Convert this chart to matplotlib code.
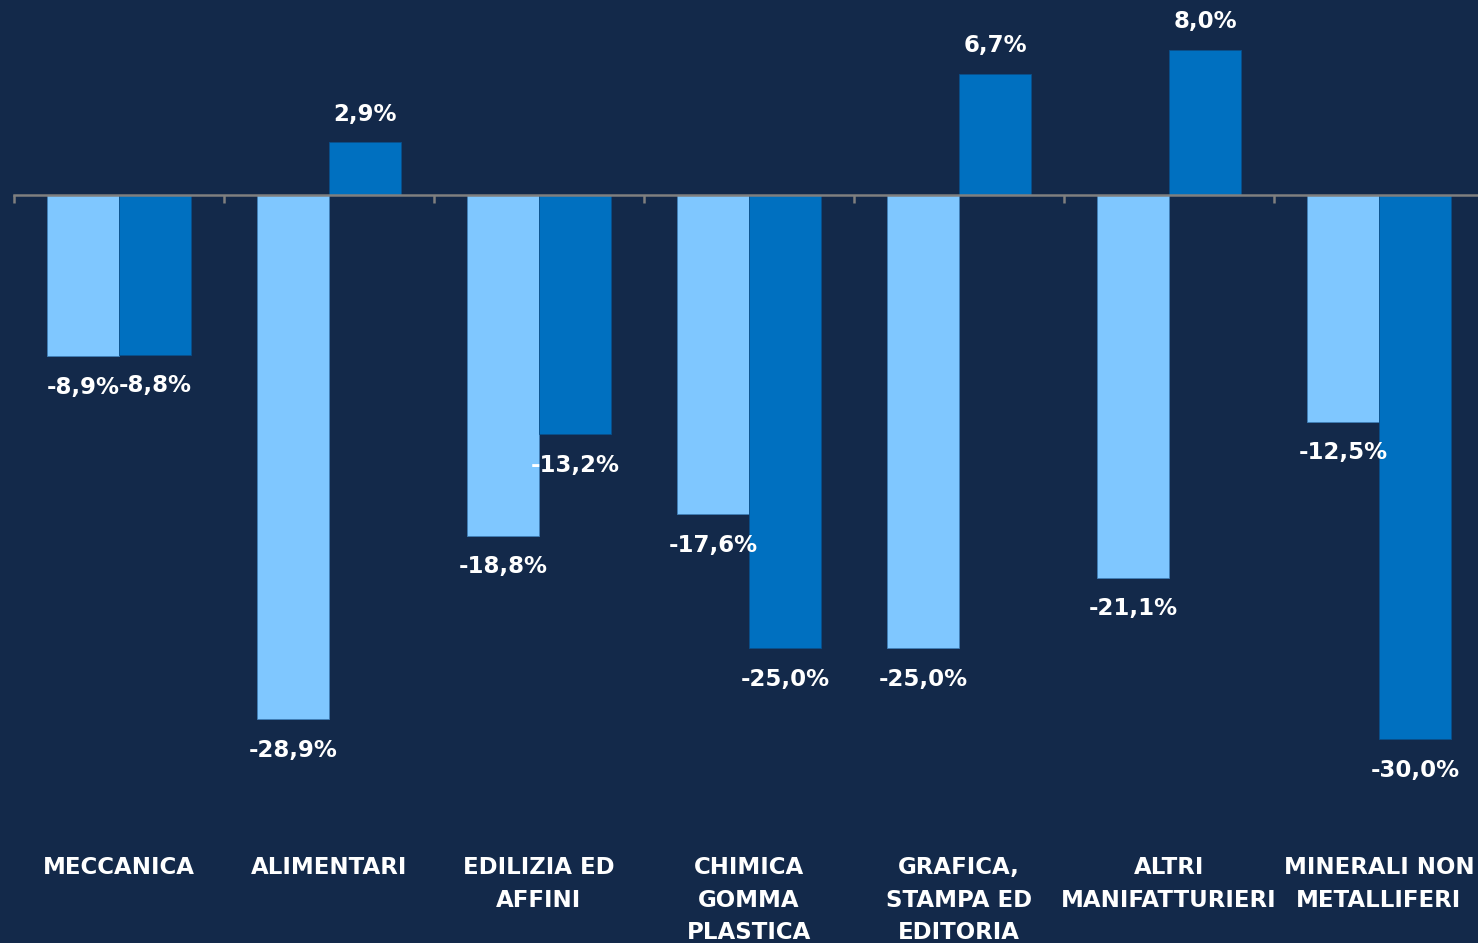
import matplotlib
matplotlib.use("Agg")
import matplotlib.pyplot as plt
import matplotlib.transforms as mtransforms

categories = ["MECCANICA", "ALIMENTARI", "EDILIZIA ED\nAFFINI", "CHIMICA\nGOMMA\nPLASTICA",
              "GRAFICA,\nSTAMPA ED\nEDITORIA", "ALTRI\nMANIFATTURIERI", "MINERALI NON\nMETALLIFERI"]
series_light = [-8.9, -28.9, -18.8, -17.6, -25.0, -21.1, -12.5]
series_dark = [-8.8, 2.9, -13.2, -25.0, 6.7, 8.0, -30.0]

BG = "#13294A"
C_LIGHT = "#7FC7FF"
C_DARK = "#0070C0"
GRAY = "#7F7F7F"

W, H = 1478, 943
fig = plt.figure(figsize=(W / 100, H / 100), dpi=100, facecolor=BG)
ax = fig.add_axes([14 / W, 0, 1470 / W, 1])
ax.set_facecolor(BG)

x = list(range(len(categories)))
bw = 0.343
xl = [i - bw / 2 for i in x]
xd = [i + bw / 2 for i in x]
ax.bar(xl, series_light, width=bw, color=C_LIGHT, edgecolor="#3F7FB8", linewidth=0.6, zorder=1)
ax.bar(xd, series_dark, width=bw, color=C_DARK, edgecolor="#0A4F8A", linewidth=0.6, zorder=1)

ax.set_xlim(-0.5, len(categories) - 0.5)
ax.set_ylim(-41.25, 10.754)

for s in ["top", "left", "right"]:
    ax.spines[s].set_visible(False)
ax.spines["bottom"].set_position(("data", 0))
ax.spines["bottom"].set_color(GRAY)
ax.spines["bottom"].set_linewidth(1.8)
ax.spines["bottom"].set_zorder(3)
ax.set_yticks([])
ax.set_xticks([i - 0.5 for i in range(len(categories) + 1)])
ax.set_xticklabels([])
ax.tick_params(axis="x", direction="out", length=5.5, width=1.8, color=GRAY)


def fmt(v):
    return f"{v:.1f}".replace(".", ",") + "%"


def label(xp, v):
    off = -31 if v < 0 else 28
    tr = mtransforms.offset_copy(ax.transData, fig=fig, x=0, y=off * 72 / 100, units="points")
    ax.text(xp, v, fmt(v), transform=tr, ha="center", va="center", color="white",
            fontsize=16.5, fontweight="bold", family="DejaVu Sans", zorder=4)


for xp, v in zip(xl, series_light):
    label(xp, v)
for xp, v in zip(xd, series_dark):
    label(xp, v)

btr = mtransforms.blended_transform_factory(ax.transData, fig.transFigure)
for i, c in enumerate(categories):
    ax.text(i, (H - 856) / H, c, transform=btr, ha="center", va="top", color="white",
            fontsize=16.5, fontweight="bold", family="DejaVu Sans", linespacing=1.53,
            multialignment="center", clip_on=False)

fig.savefig("out.png", dpi=100, facecolor=BG)
